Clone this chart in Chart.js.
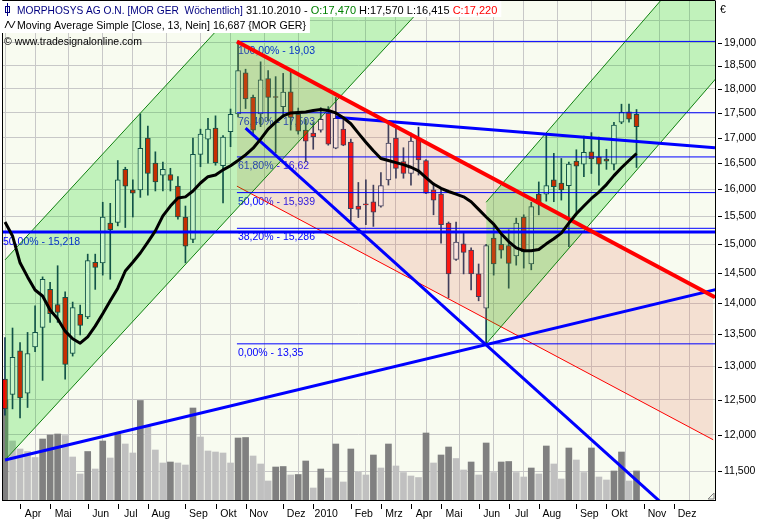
<!DOCTYPE html>
<html><head><meta charset="utf-8">
<script src="https://cdn.jsdelivr.net/npm/chart.js@4.4.0/dist/chart.umd.min.js"></script>
<style>html,body{margin:0;padding:0;background:#fff;overflow:hidden}canvas{display:block}</style>
</head><body>
<canvas id="c" width="769" height="520"></canvas>
<script>
// ---- weekly bars, first bar = week ending 22.03.2009, last = 31.10.2010 ----
const opens = [12.81,12.58,13.24,12.60,13.30,13.61,14.23,13.98,14.10,13.20,
13.82,13.78,14.69,14.68,15.38,15.39,16.38,15.99,15.99,16.99,
16.50,16.27,16.28,16.06,15.49,15.09,16.67,16.97,17.19,16.45,
17.12,17.48,18.34,17.82,17.48,18.22,17.84,17.63,17.94,17.47,
17.15,17.09,17.15,17.49,16.79,17.17,16.91,15.69,15.73,15.77,
15.69,16.18,16.99,16.53,16.30,16.99,16.55,15.99,15.91,15.38,
14.74,15.01,14.90,14.49,13.92,15.11,15.00,14.98,14.80,15.49,
14.66,15.91,15.91,16.18,16.12,16.07,16.54,16.48,16.72,16.62,
16.58,16.48,17.31,17.52,17.47];
const highs = [13.45,13.60,13.37,13.53,13.96,14.44,14.35,14.63,14.19,14.02,
13.97,14.83,14.83,15.76,15.74,16.55,16.42,16.18,17.48,17.23,
16.72,16.52,16.40,16.24,15.69,16.99,17.17,17.39,17.44,17.04,
17.58,19.03,18.42,17.87,18.58,18.39,18.26,18.33,18.40,17.60,
17.37,17.30,17.61,17.63,17.82,17.39,16.97,16.13,16.18,16.08,
16.32,17.29,17.23,16.80,17.09,17.21,16.57,16.12,16.03,15.40,
15.40,15.22,14.94,14.66,15.00,15.35,15.22,15.26,15.47,15.53,
15.76,16.14,17.07,16.69,16.59,16.52,16.76,17.03,17.10,17.01,
16.77,17.31,17.68,17.68,17.57];
const lows = [12.28,12.37,12.24,12.39,13.23,12.79,13.69,13.69,12.81,13.16,
13.49,13.75,14.23,14.47,14.40,15.33,15.30,15.49,15.85,15.89,
15.97,15.97,15.97,15.45,14.68,15.03,16.43,16.50,16.46,15.75,
16.82,17.42,17.59,17.05,17.22,17.34,16.70,17.41,17.15,17.07,
16.53,16.77,17.11,16.85,16.78,16.84,15.42,15.48,15.35,15.32,
15.67,16.08,16.21,16.21,16.08,16.27,15.92,15.53,15.02,14.09,
14.72,14.49,14.22,14.04,13.35,14.47,14.76,14.25,14.64,14.59,
14.56,15.53,15.78,15.77,15.80,14.96,15.56,16.24,16.30,16.08,
16.38,16.37,17.28,17.31,16.415];
const closes = [12.37,13.14,12.53,13.20,13.53,14.40,13.83,13.85,13.03,13.93,
13.64,14.72,14.60,15.49,15.26,16.18,16.06,15.93,16.79,16.30,
16.14,16.38,16.17,15.49,14.97,16.67,17.07,17.17,16.51,17.01,
17.47,18.39,17.79,17.15,18.19,17.82,17.82,17.93,17.41,17.13,
16.93,17.02,17.37,16.87,17.39,16.85,15.64,15.63,15.71,15.58,
16.07,16.89,16.40,16.30,16.93,16.56,15.93,15.80,15.35,14.49,
15.04,14.86,14.49,14.11,14.98,14.66,14.90,14.67,15.38,14.87,
15.68,15.73,16.07,16.05,15.99,16.48,16.44,16.71,16.58,16.48,
16.54,17.25,17.51,17.37,17.22];
const volumes = [2000,1180,1020,970,850,1220,1300,1320,1290,860,
520,970,620,1180,840,1330,1120,940,1990,1470,
1000,740,760,740,700,1840,1260,980,960,940,
740,1240,1250,880,720,380,660,670,500,510,
780,240,620,440,1120,360,1020,560,500,900,
640,1120,680,550,480,450,1340,740,900,1060,
830,600,760,500,1140,550,760,770,550,460,
640,520,1080,720,420,1040,800,550,1040,460,
400,580,960,380,580];
const ma13 = [15.40,15.15,14.68,14.44,14.22,14.12,13.89,13.75,13.55,13.43,
13.36,13.46,13.63,13.83,14.04,14.25,14.54,14.69,14.85,15.04,
15.24,15.51,15.69,15.84,15.86,15.97,16.12,16.24,16.27,16.37,
16.45,16.55,16.66,16.79,16.97,17.17,17.31,17.44,17.50,17.51,
17.52,17.55,17.57,17.55,17.50,17.40,17.28,17.09,16.91,16.74,
16.59,16.55,16.51,16.47,16.42,16.35,16.22,16.10,16.02,15.96,
15.91,15.86,15.77,15.63,15.49,15.36,15.19,15.05,14.94,14.89,
14.89,14.91,15.01,15.10,15.20,15.38,15.55,15.69,15.83,15.95,
16.09,16.26,16.41,16.55,16.687];

// axis ticks
const monthTicks  = [2,6,11,15,19,24,28,32,37,41,46,50,54,58,63,67,71,76,80,85,89];
const monthLabels = ['Apr','Mai','Jun','Jul','Aug','Sep','Okt','Nov','Dez','2010','Feb','Mrz','Apr','Mai','Jun','Jul','Aug','Sep','Okt','Nov','Dez'];
const priceTicks  = [11.5,12,12.5,13,13.5,14,14.5,15,15.5,16,16.5,17,17.5,18,18.5,19,19.5];

// drawing tools (x = bar index, y = price)
const fibStart  = 30.85;
const fibLevels = [19.03,17.503,16.62,15.939,15.286,13.35];
const fibLabels = ['100,00% - 19,03','76,40% - 17,503','61,80% - 16,62','50,00% - 15,939','38,20% - 15,286','0,00% - 13,35'];
const oldFibLevel = 15.218;
const oldFibLabel = '50,00% - 15,218';
const leftChanHigh  = [{x:0,y:14.73},{x:60,y:26.13}];
const leftChanLow   = [{x:0,y:11.65},{x:60,y:20.67}];
const rightChanHigh = [{x:64,y:15.76},{x:95,y:21.61}];
const rightChanLow  = [{x:64,y:13.35},{x:95,y:18.30}];
const downChanHigh  = [{x:30.85,y:19.03},{x:94.44,y:14.10}];
const downChanLow   = [{x:30.85,y:16.06},{x:94.2,y:11.93}];
const blueDown   = [{x:32,y:17.19},{x:88,y:11.02}];
const blueUp     = [{x:0,y:11.65},{x:95,y:14.24}];
const blueResist = [{x:44,y:17.41},{x:94.44,y:16.80}];

const FAM = "'Liberation Sans', Arial, sans-serif";
const FS = 10.5;
const NAVY = '#17305c';

const idx = opens.map((_, i) => i);
const bodies = idx.map(i => ({x:i, y:[opens[i], closes[i]]}));
const wicks  = idx.map(i => ({x:i, y:[lows[i], highs[i]]}));
const vols   = idx.map(i => ({x:i, y:volumes[i]}));
const maPts  = idx.map(i => ({x:i, y:ma13[i]}));

function line(data, color, width, order, extra) {
  return Object.assign({type:'line', data, borderColor:color, borderWidth:width, pointRadius:0,
    fill:false, order, tension:0, yAxisID:'y', xAxisID:'x', borderCapStyle:'butt'}, extra || {});
}
const GREEN_FILL = 'rgba(0,210,0,0.22)';
const PINK_FILL  = 'rgba(230,120,90,0.20)';

const datasets = [];
datasets.push({type:'bar', data:vols, yAxisID:'yv', order:100, grouped:false, barThickness:6,
  backgroundColor: idx.map(i => (i === 0 || volumes[i] > volumes[i-1]) ? '#808080' : '#c0c0c0')});
datasets.push({type:'bar', data:wicks, order:90, grouped:false, barThickness:1, backgroundColor:NAVY});
datasets.push({type:'bar', data:bodies, order:80, grouped:false, barThickness:5, borderWidth:1, borderColor:NAVY,
  borderSkipped:false, backgroundColor: idx.map(i => closes[i] >= opens[i] ? '#ffffff' : '#ff0000')});
const iDownHigh = datasets.length;
datasets.push(line(downChanHigh, '#ff0000', 4, 20));
datasets.push(line(downChanLow, '#ff0000', 1, 70, {fill: iDownHigh, backgroundColor: PINK_FILL}));
const iLeftHigh = datasets.length;
datasets.push(line(leftChanHigh, '#108010', 1, 65));
datasets.push(line(leftChanLow, '#108010', 1, 66, {fill: iLeftHigh, backgroundColor: GREEN_FILL}));
const iRightHigh = datasets.length;
datasets.push(line(rightChanHigh, '#108010', 1, 63));
datasets.push(line(rightChanLow, '#108010', 1, 64, {fill: iRightHigh, backgroundColor: GREEN_FILL}));
fibLevels.forEach(l => datasets.push(line([{x:fibStart,y:l},{x:95,y:l}], '#0000ff', 1, 50)));
datasets.push(line([{x:-1,y:oldFibLevel},{x:95,y:oldFibLevel}], '#0000ff', 3, 45));
datasets.push(line(blueDown, '#0000ff', 3, 30));
datasets.push(line(blueUp, '#0000ff', 3, 30));
datasets.push(line(blueResist, '#0000ff', 3, 30));
datasets.push(line(maPts, '#000000', 3, 10, {borderJoinStyle:'round'}));

const fmt3 = v => v.toFixed(3).replace('.', ',');

const decor = {
  id: 'decor',
  beforeDraw(chart) {
    const {ctx, chartArea:a} = chart;
    ctx.save();
    ctx.fillStyle = '#ffffff'; ctx.fillRect(0, 0, chart.width, chart.height);
    ctx.fillStyle = '#f8fbf0'; ctx.fillRect(a.left, a.top, a.right - a.left, a.bottom - a.top);
    ctx.restore();
  },
  beforeDatasetsDraw(chart) {
    const {ctx, chartArea:a} = chart;
    const xs = chart.scales.x, ys = chart.scales.y;
    ctx.save();
    ctx.beginPath(); ctx.rect(a.left, a.top, a.right - a.left, a.bottom - a.top); ctx.clip();
    ctx.font = FS + 'px ' + FAM; ctx.fillStyle = '#0000ff'; ctx.textBaseline = 'top'; ctx.textAlign = 'left';
    const fx = xs.getPixelForValue(fibStart) + 1;
    fibLevels.forEach((l, k) => ctx.fillText(fibLabels[k], fx, ys.getPixelForValue(l) + 4));
    ctx.fillText(oldFibLabel, a.left + 1, ys.getPixelForValue(oldFibLevel) + 5);
    ctx.restore();
  },
  afterDraw(chart) {
    const {ctx, chartArea:a} = chart;
    const xs = chart.scales.x, ys = chart.scales.y;
    ctx.save();
    // frame
    ctx.strokeStyle = '#000'; ctx.lineWidth = 1;
    ctx.beginPath();
    ctx.moveTo(a.left + 0.5, a.bottom + 0.5); ctx.lineTo(a.left + 0.5, 0.5); ctx.lineTo(a.right + 0.5, 0.5);
    ctx.stroke();
    // detached tick marks
    ctx.beginPath();
    monthTicks.forEach(v => { const px = Math.round(xs.getPixelForValue(v)) + 0.5; ctx.moveTo(px, a.bottom + 4); ctx.lineTo(px, a.bottom + 9); });
    priceTicks.forEach(v => { if (v === 19.5) return; const py = Math.round(ys.getPixelForValue(v)) + 0.5; ctx.moveTo(a.right + 3, py); ctx.lineTo(a.right + 7, py); });
    ctx.stroke();
    // resize grip
    ctx.strokeStyle = '#808080';
    ctx.beginPath(); ctx.moveTo(a.right - 1, a.bottom - 7); ctx.lineTo(a.right - 7, a.bottom - 1); ctx.lineTo(a.right - 1, a.bottom - 1); ctx.closePath(); ctx.stroke();
    // header
    ctx.textBaseline = 'alphabetic'; ctx.textAlign = 'left';
    const last = opens.length - 1;
    const seg1 = [['MORPHOSYS AG O.N. [MOR GER  W\u00f6chentlich]', '#000080', 10.2], [' 31.10.2010 - ', '#000', 11],
      ['O:' + fmt3(opens[last]), '#008000', 11], [' H:' + fmt3(highs[last]) + ' L:' + fmt3(lows[last]) + ' ', '#000', 11],
      ['C:' + fmt3(closes[last]), '#ff0000', 11]];
    const line2 = 'Moving Average Simple [Close, 13, Nein] ' + fmt3(ma13[last]) + ' {MOR GER}';
    let w1 = 0;
    seg1.forEach(g => { ctx.font = g[2] + 'px ' + FAM; w1 += ctx.measureText(g[0]).width; });
    ctx.font = '10.6px ' + FAM;
    const w2 = ctx.measureText(line2).width;
    ctx.fillStyle = '#ffffff';
    ctx.fillRect(1, 1, 17 + w1 + 3, 16);
    ctx.fillRect(1, 17, 17 + w2 + 3, 16);
    let x = 17;
    seg1.forEach(g => { ctx.font = g[2] + 'px ' + FAM; ctx.fillStyle = g[1]; ctx.fillText(g[0], x, 14); x += ctx.measureText(g[0]).width; });
    ctx.font = '10.6px ' + FAM;
    ctx.fillStyle = '#000'; ctx.fillText(line2, 17, 29);
    ctx.font = FS + 'px ' + FAM;
    ctx.fillText('\u00a9 www.tradesignalonline.com', 4, 45);
    // icons
    ctx.strokeStyle = '#000080'; ctx.lineWidth = 1;
    ctx.beginPath(); ctx.moveTo(7.5, 3); ctx.lineTo(7.5, 16); ctx.stroke();
    ctx.strokeRect(5.5, 6.5, 4, 6);
    ctx.strokeStyle = '#000';
    ctx.beginPath(); ctx.moveTo(5, 28); ctx.lineTo(8, 21); ctx.lineTo(11.5, 28); ctx.lineTo(15, 21); ctx.stroke();
    // currency
    ctx.fillStyle = '#000'; ctx.fillText('\u20ac', 720, 13);
    ctx.restore();
  }
};

new Chart(document.getElementById('c'), {
  type: 'bar',
  data: { datasets },
  options: {
    responsive: false, animation: false, events: [],
    layout: { padding: { left: 2, top: 1, right: 0, bottom: 0 } },
    plugins: { legend: {display:false}, tooltip: {enabled:false}, filler: {propagate:false} },
    scales: {
      x: { type:'linear', position:'bottom', min:-0.4, max:94.44, offset:false,
        afterBuildTicks: s => { s.ticks = monthTicks.map(v => ({value:v})); },
        afterFit: s => { s.height = 20; s.paddingLeft = 0; s.paddingRight = 0; },
        grid: { color:'#c8c8c8', lineWidth:1, drawTicks:true, tickLength:8, tickColor:'rgba(0,0,0,0)' },
        border: { display:true, color:'#000', width:1 },
        ticks: { autoSkip:false, maxRotation:0, minRotation:0, padding:0, labelOffset:13, color:'#000',
          font:{family:FAM, size:FS}, callback:(v, i) => monthLabels[i] } },
      y: { type:'logarithmic', position:'right', min:11.117, max:19.953,
        afterBuildTicks: s => { s.ticks = priceTicks.map(v => ({value:v})); },
        afterFit: s => { s.width = 54; s.paddingTop = 0; s.paddingBottom = 0; },
        grid: { color:'#c8c8c8', lineWidth:1, drawTicks:true, tickLength:8, tickColor:'rgba(0,0,0,0)' },
        border: { display:true, color:'#000', width:1 },
        ticks: { autoSkip:false, padding:1, color:'#000', font:{family:FAM, size:FS},
          callback: v => v === 19.5 ? '' : fmt3(v) } },
      yv: { type:'linear', display:false, min:0, max:9980, position:'left' }
    }
  },
  plugins: [decor]
});
</script>
</body></html>
